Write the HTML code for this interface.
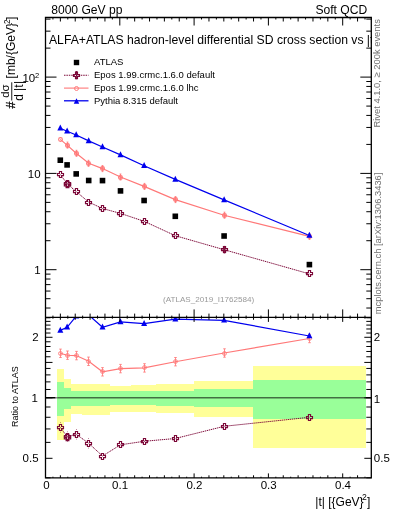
<!DOCTYPE html>
<html><head><meta charset="utf-8"><style>html,body{margin:0;padding:0;background:#fff;width:393px;height:512px;overflow:hidden;position:relative}</style></head>
<body>
<svg width="393" height="512" viewBox="0 0 393 512" style="position:absolute;left:0;top:0;will-change:transform;font-family:'Liberation Sans', sans-serif">
<rect width="393" height="512" fill="#fff"/>
<g shape-rendering="crispEdges">
<rect x="57.4" y="369.1" width="6.50" height="70.90" fill="#ffff99"/>
<rect x="63.9" y="379.1" width="7.00" height="42.50" fill="#ffff99"/>
<rect x="70.9" y="384.2" width="10.80" height="29.40" fill="#ffff99"/>
<rect x="81.7" y="384.2" width="14.20" height="30.40" fill="#ffff99"/>
<rect x="95.9" y="384.2" width="13.90" height="30.50" fill="#ffff99"/>
<rect x="109.8" y="385.7" width="21.40" height="26.60" fill="#ffff99"/>
<rect x="131.2" y="385.1" width="24.40" height="26.90" fill="#ffff99"/>
<rect x="155.6" y="383.5" width="38.30" height="29.70" fill="#ffff99"/>
<rect x="193.9" y="381.3" width="59.50" height="35.70" fill="#ffff99"/>
<rect x="253.4" y="366.2" width="112.60" height="81.40" fill="#ffff99"/>
<rect x="57.4" y="381.9" width="6.50" height="34.30" fill="#99ff99"/>
<rect x="63.9" y="387.8" width="7.00" height="20.90" fill="#99ff99"/>
<rect x="70.9" y="390.5" width="10.80" height="15.00" fill="#99ff99"/>
<rect x="81.7" y="390.7" width="14.20" height="14.80" fill="#99ff99"/>
<rect x="95.9" y="390.9" width="13.90" height="14.60" fill="#99ff99"/>
<rect x="109.8" y="391.3" width="21.40" height="14.00" fill="#99ff99"/>
<rect x="131.2" y="391.3" width="24.40" height="14.00" fill="#99ff99"/>
<rect x="155.6" y="390.7" width="38.30" height="14.80" fill="#99ff99"/>
<rect x="193.9" y="388.7" width="59.50" height="18.40" fill="#99ff99"/>
<rect x="253.4" y="379.8" width="112.60" height="39.20" fill="#99ff99"/>
</g>
<line x1="57.4" y1="397.8" x2="366.0" y2="397.8" stroke="#000" stroke-opacity="0.56" stroke-width="1.5"/>
<path d="M45.5,397.8 H55.5 M366,397.8 H371.3" stroke="#000" stroke-width="1.4"/>
<path d="M55.5,397.8 H57.4" stroke="#000" stroke-opacity="0.5" stroke-width="1.4"/>
<defs><clipPath id="cm"><rect x="45.5" y="17.5" width="325.8" height="299.9"/></clipPath>
<clipPath id="cr"><rect x="45.5" y="318.09999999999997" width="325.8" height="159.8"/></clipPath></defs>
<g clip-path="url(#cm)">
<polyline points="60.3,174.5 67.1,183.7 76.2,191.6 88.7,202.1 102.5,208.5 120.5,213.4 144.1,221.3 175.3,235.7 224.1,249.7 309.4,273.9" fill="none" stroke="#7c0838" stroke-width="1.0" stroke-dasharray="1.3,0.7"/>
<polyline points="60.3,139.4 67.1,145.1 76.2,153.3 88.7,163.3 102.5,168.6 120.5,177.0 144.1,186.4 175.3,199.6 224.1,215.2 309.4,236.4" fill="none" stroke="#ff7878" stroke-width="1.15"/>
<polyline points="60.3,128.2 67.1,131.3 76.2,135.0 88.7,140.9 102.5,147.0 120.5,154.9 144.1,165.8 175.3,179.4 224.1,199.9 309.4,235.5" fill="none" stroke="#0000ee" stroke-width="1.2"/>
<path d="M59.45,171.50 H61.55 V173.45 H63.50 V175.55 H61.55 V177.50 H59.45 V175.55 H57.50 V173.45 H59.45 Z" fill="none" stroke="#7c0838" stroke-width="1.15"/>
<path d="M66.45,180.50 H68.55 V182.45 H70.50 V184.55 H68.55 V186.50 H66.45 V184.55 H64.50 V182.45 H66.45 Z" fill="none" stroke="#7c0838" stroke-width="1.15"/>
<path d="M66.20,181.40 H68.80 V183.20 H70.60 V185.80 H68.80 V187.60 H66.20 V185.80 H64.40 V183.20 H66.20 Z" fill="none" stroke="#7c0838" stroke-width="1.3"/>
<circle cx="67.8" cy="183.8" r="2.0" fill="#7c0838" fill-opacity="0.35"/>
<path d="M75.45,188.50 H77.55 V190.45 H79.50 V192.55 H77.55 V194.50 H75.45 V192.55 H73.50 V190.45 H75.45 Z" fill="none" stroke="#7c0838" stroke-width="1.15"/>
<path d="M87.45,199.50 H89.55 V201.45 H91.50 V203.55 H89.55 V205.50 H87.45 V203.55 H85.50 V201.45 H87.45 Z" fill="none" stroke="#7c0838" stroke-width="1.15"/>
<path d="M101.45,205.50 H103.55 V207.45 H105.50 V209.55 H103.55 V211.50 H101.45 V209.55 H99.50 V207.45 H101.45 Z" fill="none" stroke="#7c0838" stroke-width="1.15"/>
<path d="M119.45,210.50 H121.55 V212.45 H123.50 V214.55 H121.55 V216.50 H119.45 V214.55 H117.50 V212.45 H119.45 Z" fill="none" stroke="#7c0838" stroke-width="1.15"/>
<path d="M143.45,218.50 H145.55 V220.45 H147.50 V222.55 H145.55 V224.50 H143.45 V222.55 H141.50 V220.45 H143.45 Z" fill="none" stroke="#7c0838" stroke-width="1.15"/>
<path d="M174.45,232.50 H176.55 V234.45 H178.50 V236.55 H176.55 V238.50 H174.45 V236.55 H172.50 V234.45 H174.45 Z" fill="none" stroke="#7c0838" stroke-width="1.15"/>
<path d="M223.45,246.50 H225.55 V248.45 H227.50 V250.55 H225.55 V252.50 H223.45 V250.55 H221.50 V248.45 H223.45 Z" fill="none" stroke="#7c0838" stroke-width="1.15"/>
<circle cx="224.5" cy="249.5" r="2.0" fill="#7c0838" fill-opacity="0.5"/>
<path d="M224.50,246.40 V253.00 M223.60,246.40 H225.40 M223.60,253.00 H225.40" stroke="#7c0838" stroke-width="0.9" fill="none"/>
<path d="M308.45,270.50 H310.55 V272.45 H312.50 V274.55 H310.55 V276.50 H308.45 V274.55 H306.50 V272.45 H308.45 Z" fill="none" stroke="#7c0838" stroke-width="1.15"/>
<circle cx="60.50" cy="139.50" r="1.9" fill="none" stroke="#ff7878" stroke-width="1.1"/>
<circle cx="67.50" cy="145.50" r="1.9" fill="none" stroke="#ff7878" stroke-width="1.1"/>
<circle cx="67.5" cy="145.5" r="2.2" fill="#ff7878" fill-opacity="0.5"/>
<path d="M67.50,142.10 V148.10 M66.60,142.10 H68.40 M66.60,148.10 H68.40" stroke="#ff7878" stroke-width="0.9" fill="none"/>
<circle cx="76.50" cy="153.50" r="1.9" fill="none" stroke="#ff7878" stroke-width="1.1"/>
<circle cx="76.5" cy="153.5" r="2.2" fill="#ff7878" fill-opacity="0.5"/>
<path d="M76.50,150.30 V156.30 M75.60,150.30 H77.40 M75.60,156.30 H77.40" stroke="#ff7878" stroke-width="0.9" fill="none"/>
<circle cx="88.50" cy="163.50" r="1.9" fill="none" stroke="#ff7878" stroke-width="1.1"/>
<circle cx="88.5" cy="163.5" r="2.2" fill="#ff7878" fill-opacity="0.5"/>
<path d="M88.50,160.30 V166.30 M87.60,160.30 H89.40 M87.60,166.30 H89.40" stroke="#ff7878" stroke-width="0.9" fill="none"/>
<circle cx="102.50" cy="168.50" r="1.9" fill="none" stroke="#ff7878" stroke-width="1.1"/>
<circle cx="102.5" cy="168.5" r="2.2" fill="#ff7878" fill-opacity="0.5"/>
<path d="M102.50,165.60 V171.60 M101.60,165.60 H103.40 M101.60,171.60 H103.40" stroke="#ff7878" stroke-width="0.9" fill="none"/>
<circle cx="120.50" cy="177.50" r="1.9" fill="none" stroke="#ff7878" stroke-width="1.1"/>
<circle cx="120.5" cy="177.5" r="2.2" fill="#ff7878" fill-opacity="0.5"/>
<path d="M120.50,174.00 V180.00 M119.60,174.00 H121.40 M119.60,180.00 H121.40" stroke="#ff7878" stroke-width="0.9" fill="none"/>
<circle cx="144.50" cy="186.50" r="1.9" fill="none" stroke="#ff7878" stroke-width="1.1"/>
<circle cx="144.5" cy="186.5" r="2.2" fill="#ff7878" fill-opacity="0.5"/>
<path d="M144.50,183.40 V189.40 M143.60,183.40 H145.40 M143.60,189.40 H145.40" stroke="#ff7878" stroke-width="0.9" fill="none"/>
<circle cx="175.50" cy="199.50" r="1.9" fill="none" stroke="#ff7878" stroke-width="1.1"/>
<circle cx="175.5" cy="199.5" r="2.2" fill="#ff7878" fill-opacity="0.5"/>
<path d="M175.50,196.60 V202.60 M174.60,196.60 H176.40 M174.60,202.60 H176.40" stroke="#ff7878" stroke-width="0.9" fill="none"/>
<circle cx="224.50" cy="215.50" r="1.9" fill="none" stroke="#ff7878" stroke-width="1.1"/>
<circle cx="224.5" cy="215.5" r="2.2" fill="#ff7878" fill-opacity="0.5"/>
<path d="M224.50,212.20 V218.20 M223.60,212.20 H225.40 M223.60,218.20 H225.40" stroke="#ff7878" stroke-width="0.9" fill="none"/>
<circle cx="309.50" cy="236.50" r="1.9" fill="none" stroke="#ff7878" stroke-width="1.1"/>
<circle cx="309.5" cy="236.5" r="2.2" fill="#ff7878" fill-opacity="0.5"/>
<path d="M309.50,233.40 V239.40 M308.60,233.40 H310.40 M308.60,239.40 H310.40" stroke="#ff7878" stroke-width="0.9" fill="none"/>
<path d="M60.30,124.48 L63.30,130.48 L57.30,130.48Z" fill="#0000ee"/>
<path d="M67.10,127.58 L70.10,133.58 L64.10,133.58Z" fill="#0000ee"/>
<path d="M76.20,131.28 L79.20,137.28 L73.20,137.28Z" fill="#0000ee"/>
<path d="M88.70,137.18 L91.70,143.18 L85.70,143.18Z" fill="#0000ee"/>
<path d="M102.50,143.28 L105.50,149.28 L99.50,149.28Z" fill="#0000ee"/>
<path d="M120.50,151.18 L123.50,157.18 L117.50,157.18Z" fill="#0000ee"/>
<path d="M144.10,162.08 L147.10,168.08 L141.10,168.08Z" fill="#0000ee"/>
<path d="M175.30,175.68 L178.30,181.68 L172.30,181.68Z" fill="#0000ee"/>
<path d="M224.10,196.18 L227.10,202.18 L221.10,202.18Z" fill="#0000ee"/>
<path d="M309.40,231.78 L312.40,237.78 L306.40,237.78Z" fill="#0000ee"/>
<rect x="57.50" y="157.40" width="5.6" height="5.6" fill="#000"/>
<rect x="64.30" y="162.10" width="5.6" height="5.6" fill="#000"/>
<rect x="73.40" y="171.10" width="5.6" height="5.6" fill="#000"/>
<rect x="85.90" y="177.70" width="5.6" height="5.6" fill="#000"/>
<rect x="99.70" y="177.80" width="5.6" height="5.6" fill="#000"/>
<rect x="117.70" y="188.10" width="5.6" height="5.6" fill="#000"/>
<rect x="141.30" y="197.70" width="5.6" height="5.6" fill="#000"/>
<rect x="172.50" y="213.50" width="5.6" height="5.6" fill="#000"/>
<rect x="221.30" y="233.20" width="5.6" height="5.6" fill="#000"/>
<rect x="306.60" y="261.80" width="5.6" height="5.6" fill="#000"/>
</g>
<g clip-path="url(#cr)">
<polyline points="60.3,427.4 67.1,436.6 76.2,434.3 88.7,443.3 102.5,456.0 120.5,444.8 144.1,441.3 175.3,438.5 224.1,426.3 309.4,417.3" fill="none" stroke="#7c0838" stroke-width="1.0" stroke-dasharray="1.3,0.7"/>
<polyline points="60.3,353.3 67.1,355.2 76.2,355.6 88.7,361.3 102.5,371.8 120.5,368.6 144.1,367.9 175.3,361.7 224.1,353.0 309.4,338.5" fill="none" stroke="#ff7878" stroke-width="1.15"/>
<polyline points="60.3,330.4 67.1,327.3 76.2,316.2 88.7,315.0 102.5,327.3 120.5,321.9 144.1,323.6 175.3,319.2 224.1,320.3 309.4,336.0" fill="none" stroke="#0000ee" stroke-width="1.2"/>
<path d="M60.5,422.10 v1 M60.5,431.70 v1" stroke="#7c0838" stroke-width="0.8" stroke-opacity="0.6"/>
<path d="M59.45,424.50 H61.55 V426.45 H63.50 V428.55 H61.55 V430.50 H59.45 V428.55 H57.50 V426.45 H59.45 Z" fill="none" stroke="#7c0838" stroke-width="1.15"/>
<path d="M67.5,431.30 v1 M67.5,440.90 v1" stroke="#7c0838" stroke-width="0.8" stroke-opacity="0.6"/>
<path d="M66.45,433.50 H68.55 V435.45 H70.50 V437.55 H68.55 V439.50 H66.45 V437.55 H64.50 V435.45 H66.45 Z" fill="none" stroke="#7c0838" stroke-width="1.15"/>
<path d="M66.20,434.40 H68.80 V436.20 H70.60 V438.80 H68.80 V440.60 H66.20 V438.80 H64.40 V436.20 H66.20 Z" fill="none" stroke="#7c0838" stroke-width="1.3"/>
<circle cx="67.8" cy="436.8" r="2.0" fill="#7c0838" fill-opacity="0.35"/>
<path d="M76.5,429.00 v1 M76.5,438.60 v1" stroke="#7c0838" stroke-width="0.8" stroke-opacity="0.6"/>
<path d="M75.45,431.50 H77.55 V433.45 H79.50 V435.55 H77.55 V437.50 H75.45 V435.55 H73.50 V433.45 H75.45 Z" fill="none" stroke="#7c0838" stroke-width="1.15"/>
<path d="M88.5,438.00 v1 M88.5,447.60 v1" stroke="#7c0838" stroke-width="0.8" stroke-opacity="0.6"/>
<path d="M87.45,440.50 H89.55 V442.45 H91.50 V444.55 H89.55 V446.50 H87.45 V444.55 H85.50 V442.45 H87.45 Z" fill="none" stroke="#7c0838" stroke-width="1.15"/>
<path d="M101.45,453.50 H103.55 V455.45 H105.50 V457.55 H103.55 V459.50 H101.45 V457.55 H99.50 V455.45 H101.45 Z" fill="none" stroke="#7c0838" stroke-width="1.15"/>
<path d="M119.45,441.50 H121.55 V443.45 H123.50 V445.55 H121.55 V447.50 H119.45 V445.55 H117.50 V443.45 H119.45 Z" fill="none" stroke="#7c0838" stroke-width="1.15"/>
<path d="M143.45,438.50 H145.55 V440.45 H147.50 V442.55 H145.55 V444.50 H143.45 V442.55 H141.50 V440.45 H143.45 Z" fill="none" stroke="#7c0838" stroke-width="1.15"/>
<path d="M174.45,435.50 H176.55 V437.45 H178.50 V439.55 H176.55 V441.50 H174.45 V439.55 H172.50 V437.45 H174.45 Z" fill="none" stroke="#7c0838" stroke-width="1.15"/>
<path d="M223.45,423.50 H225.55 V425.45 H227.50 V427.55 H225.55 V429.50 H223.45 V427.55 H221.50 V425.45 H223.45 Z" fill="none" stroke="#7c0838" stroke-width="1.15"/>
<path d="M308.45,414.50 H310.55 V416.45 H312.50 V418.55 H310.55 V420.50 H308.45 V418.55 H306.50 V416.45 H308.45 Z" fill="none" stroke="#7c0838" stroke-width="1.15"/>
<path d="M60.50,349.10 V357.50 M59.20,349.10 H61.80 M59.20,357.50 H61.80" stroke="#ff7878" stroke-width="0.85" fill="none"/>
<circle cx="60.50" cy="353.50" r="1.9" fill="none" stroke="#ff7878" stroke-width="0.95"/>
<path d="M67.50,351.00 V359.40 M66.20,351.00 H68.80 M66.20,359.40 H68.80" stroke="#ff7878" stroke-width="0.85" fill="none"/>
<circle cx="67.50" cy="355.50" r="1.9" fill="none" stroke="#ff7878" stroke-width="0.95"/>
<path d="M76.50,351.40 V359.80 M75.20,351.40 H77.80 M75.20,359.80 H77.80" stroke="#ff7878" stroke-width="0.85" fill="none"/>
<circle cx="76.50" cy="355.50" r="1.9" fill="none" stroke="#ff7878" stroke-width="0.95"/>
<path d="M88.50,357.10 V365.50 M87.20,357.10 H89.80 M87.20,365.50 H89.80" stroke="#ff7878" stroke-width="0.85" fill="none"/>
<circle cx="88.50" cy="361.50" r="1.9" fill="none" stroke="#ff7878" stroke-width="0.95"/>
<path d="M102.50,367.60 V376.00 M101.20,367.60 H103.80 M101.20,376.00 H103.80" stroke="#ff7878" stroke-width="0.85" fill="none"/>
<circle cx="102.50" cy="371.50" r="1.9" fill="none" stroke="#ff7878" stroke-width="0.95"/>
<path d="M120.50,364.40 V372.80 M119.20,364.40 H121.80 M119.20,372.80 H121.80" stroke="#ff7878" stroke-width="0.85" fill="none"/>
<circle cx="120.50" cy="368.50" r="1.9" fill="none" stroke="#ff7878" stroke-width="0.95"/>
<path d="M144.50,363.70 V372.10 M143.20,363.70 H145.80 M143.20,372.10 H145.80" stroke="#ff7878" stroke-width="0.85" fill="none"/>
<circle cx="144.50" cy="367.50" r="1.9" fill="none" stroke="#ff7878" stroke-width="0.95"/>
<path d="M175.50,357.50 V365.90 M174.20,357.50 H176.80 M174.20,365.90 H176.80" stroke="#ff7878" stroke-width="0.85" fill="none"/>
<circle cx="175.50" cy="361.50" r="1.9" fill="none" stroke="#ff7878" stroke-width="0.95"/>
<path d="M224.50,348.80 V357.20 M223.20,348.80 H225.80 M223.20,357.20 H225.80" stroke="#ff7878" stroke-width="0.85" fill="none"/>
<circle cx="224.50" cy="353.50" r="1.9" fill="none" stroke="#ff7878" stroke-width="0.95"/>
<path d="M309.50,334.30 V342.70 M308.20,334.30 H310.80 M308.20,342.70 H310.80" stroke="#ff7878" stroke-width="0.85" fill="none"/>
<circle cx="309.50" cy="338.50" r="1.9" fill="none" stroke="#ff7878" stroke-width="0.95"/>
<path d="M60.30,326.68 L63.30,332.68 L57.30,332.68Z" fill="#0000ee"/>
<path d="M67.10,323.58 L70.10,329.58 L64.10,329.58Z" fill="#0000ee"/>
<path d="M76.20,312.48 L79.20,318.48 L73.20,318.48Z" fill="#0000ee"/>
<path d="M88.70,311.28 L91.70,317.28 L85.70,317.28Z" fill="#0000ee"/>
<path d="M102.50,323.58 L105.50,329.58 L99.50,329.58Z" fill="#0000ee"/>
<path d="M120.50,318.18 L123.50,324.18 L117.50,324.18Z" fill="#0000ee"/>
<path d="M144.10,319.88 L147.10,325.88 L141.10,325.88Z" fill="#0000ee"/>
<path d="M175.30,315.48 L178.30,321.48 L172.30,321.48Z" fill="#0000ee"/>
<path d="M224.10,316.58 L227.10,322.58 L221.10,322.58Z" fill="#0000ee"/>
<path d="M309.40,332.28 L312.40,338.28 L306.40,338.28Z" fill="#0000ee"/>
</g>
<g stroke="#000" fill="none">
<path d="M45.5,17.5 H371.3 V477.9 H45.5 Z" stroke-width="1.3"/>
<path d="M45.5,317.4 H371.3" stroke-width="1.3"/>
<path d="M45.50,17.5 v8 M45.50,317.4 v-8 M45.50,317.4 v4.5 M45.50,477.9 v-4.5 M52.93,17.5 v2 M52.93,317.4 v-1.8 M52.93,317.4 v1.3 M52.93,477.9 v-1.2 M60.36,17.5 v4 M60.36,317.4 v-3.8 M60.36,317.4 v2.4 M60.36,477.9 v-2.6 M67.79,17.5 v2 M67.79,317.4 v-1.8 M67.79,317.4 v1.3 M67.79,477.9 v-1.2 M75.22,17.5 v4 M75.22,317.4 v-3.8 M75.22,317.4 v2.4 M75.22,477.9 v-2.6 M82.65,17.5 v2 M82.65,317.4 v-1.8 M82.65,317.4 v1.3 M82.65,477.9 v-1.2 M90.08,17.5 v4 M90.08,317.4 v-3.8 M90.08,317.4 v2.4 M90.08,477.9 v-2.6 M97.51,17.5 v2 M97.51,317.4 v-1.8 M97.51,317.4 v1.3 M97.51,477.9 v-1.2 M104.94,17.5 v4 M104.94,317.4 v-3.8 M104.94,317.4 v2.4 M104.94,477.9 v-2.6 M112.37,17.5 v2 M112.37,317.4 v-1.8 M112.37,317.4 v1.3 M112.37,477.9 v-1.2 M119.80,17.5 v8 M119.80,317.4 v-8 M119.80,317.4 v4.5 M119.80,477.9 v-4.5 M127.23,17.5 v2 M127.23,317.4 v-1.8 M127.23,317.4 v1.3 M127.23,477.9 v-1.2 M134.66,17.5 v4 M134.66,317.4 v-3.8 M134.66,317.4 v2.4 M134.66,477.9 v-2.6 M142.09,17.5 v2 M142.09,317.4 v-1.8 M142.09,317.4 v1.3 M142.09,477.9 v-1.2 M149.52,17.5 v4 M149.52,317.4 v-3.8 M149.52,317.4 v2.4 M149.52,477.9 v-2.6 M156.95,17.5 v2 M156.95,317.4 v-1.8 M156.95,317.4 v1.3 M156.95,477.9 v-1.2 M164.38,17.5 v4 M164.38,317.4 v-3.8 M164.38,317.4 v2.4 M164.38,477.9 v-2.6 M171.81,17.5 v2 M171.81,317.4 v-1.8 M171.81,317.4 v1.3 M171.81,477.9 v-1.2 M179.24,17.5 v4 M179.24,317.4 v-3.8 M179.24,317.4 v2.4 M179.24,477.9 v-2.6 M186.67,17.5 v2 M186.67,317.4 v-1.8 M186.67,317.4 v1.3 M186.67,477.9 v-1.2 M194.10,17.5 v8 M194.10,317.4 v-8 M194.10,317.4 v4.5 M194.10,477.9 v-4.5 M201.53,17.5 v2 M201.53,317.4 v-1.8 M201.53,317.4 v1.3 M201.53,477.9 v-1.2 M208.96,17.5 v4 M208.96,317.4 v-3.8 M208.96,317.4 v2.4 M208.96,477.9 v-2.6 M216.39,17.5 v2 M216.39,317.4 v-1.8 M216.39,317.4 v1.3 M216.39,477.9 v-1.2 M223.82,17.5 v4 M223.82,317.4 v-3.8 M223.82,317.4 v2.4 M223.82,477.9 v-2.6 M231.25,17.5 v2 M231.25,317.4 v-1.8 M231.25,317.4 v1.3 M231.25,477.9 v-1.2 M238.68,17.5 v4 M238.68,317.4 v-3.8 M238.68,317.4 v2.4 M238.68,477.9 v-2.6 M246.11,17.5 v2 M246.11,317.4 v-1.8 M246.11,317.4 v1.3 M246.11,477.9 v-1.2 M253.54,17.5 v4 M253.54,317.4 v-3.8 M253.54,317.4 v2.4 M253.54,477.9 v-2.6 M260.97,17.5 v2 M260.97,317.4 v-1.8 M260.97,317.4 v1.3 M260.97,477.9 v-1.2 M268.40,17.5 v8 M268.40,317.4 v-8 M268.40,317.4 v4.5 M268.40,477.9 v-4.5 M275.83,17.5 v2 M275.83,317.4 v-1.8 M275.83,317.4 v1.3 M275.83,477.9 v-1.2 M283.26,17.5 v4 M283.26,317.4 v-3.8 M283.26,317.4 v2.4 M283.26,477.9 v-2.6 M290.69,17.5 v2 M290.69,317.4 v-1.8 M290.69,317.4 v1.3 M290.69,477.9 v-1.2 M298.12,17.5 v4 M298.12,317.4 v-3.8 M298.12,317.4 v2.4 M298.12,477.9 v-2.6 M305.55,17.5 v2 M305.55,317.4 v-1.8 M305.55,317.4 v1.3 M305.55,477.9 v-1.2 M312.98,17.5 v4 M312.98,317.4 v-3.8 M312.98,317.4 v2.4 M312.98,477.9 v-2.6 M320.41,17.5 v2 M320.41,317.4 v-1.8 M320.41,317.4 v1.3 M320.41,477.9 v-1.2 M327.84,17.5 v4 M327.84,317.4 v-3.8 M327.84,317.4 v2.4 M327.84,477.9 v-2.6 M335.27,17.5 v2 M335.27,317.4 v-1.8 M335.27,317.4 v1.3 M335.27,477.9 v-1.2 M342.70,17.5 v8 M342.70,317.4 v-8 M342.70,317.4 v4.5 M342.70,477.9 v-4.5 M350.13,17.5 v2 M350.13,317.4 v-1.8 M350.13,317.4 v1.3 M350.13,477.9 v-1.2 M357.56,17.5 v4 M357.56,317.4 v-3.8 M357.56,317.4 v2.4 M357.56,477.9 v-2.6 M364.99,17.5 v2 M364.99,317.4 v-1.8 M364.99,317.4 v1.3 M364.99,477.9 v-1.2" stroke-width="1"/>
<path d="M45.5,308.02 h5 M371.3,308.02 h-5 M45.5,298.69 h5 M371.3,298.69 h-5 M45.5,291.06 h5 M371.3,291.06 h-5 M45.5,284.62 h5 M371.3,284.62 h-5 M45.5,279.03 h5 M371.3,279.03 h-5 M45.5,274.11 h5 M371.3,274.11 h-5 M45.5,269.70 h11 M371.3,269.70 h-11 M45.5,240.71 h5 M371.3,240.71 h-5 M45.5,223.75 h5 M371.3,223.75 h-5 M45.5,211.72 h5 M371.3,211.72 h-5 M45.5,202.39 h5 M371.3,202.39 h-5 M45.5,194.76 h5 M371.3,194.76 h-5 M45.5,188.32 h5 M371.3,188.32 h-5 M45.5,182.73 h5 M371.3,182.73 h-5 M45.5,177.81 h5 M371.3,177.81 h-5 M45.5,173.40 h11 M371.3,173.40 h-11 M45.5,144.41 h5 M371.3,144.41 h-5 M45.5,127.45 h5 M371.3,127.45 h-5 M45.5,115.42 h5 M371.3,115.42 h-5 M45.5,106.09 h5 M371.3,106.09 h-5 M45.5,98.46 h5 M371.3,98.46 h-5 M45.5,92.02 h5 M371.3,92.02 h-5 M45.5,86.43 h5 M371.3,86.43 h-5 M45.5,81.51 h5 M371.3,81.51 h-5 M45.5,77.10 h11 M371.3,77.10 h-11 M45.5,48.11 h5 M371.3,48.11 h-5 M45.5,31.15 h5 M371.3,31.15 h-5 M45.5,19.12 h5 M371.3,19.12 h-5" stroke-width="1"/>
<path d="M45.5,477.79 h5 M371.3,477.79 h-5 M45.5,458.31 h7 M371.3,458.31 h-7 M45.5,442.39 h5 M371.3,442.39 h-5 M45.5,428.94 h5 M371.3,428.94 h-5 M45.5,417.28 h5 M371.3,417.28 h-5 M45.5,407.00 h5 M371.3,407.00 h-5 M45.5,397.80 h7 M371.3,397.80 h-7 M45.5,389.48 h5 M371.3,389.48 h-5 M45.5,381.88 h5 M371.3,381.88 h-5 M45.5,374.90 h5 M371.3,374.90 h-5 M45.5,368.43 h5 M371.3,368.43 h-5 M45.5,362.41 h7 M371.3,362.41 h-7 M45.5,356.77 h5 M371.3,356.77 h-5 M45.5,351.48 h5 M371.3,351.48 h-5 M45.5,346.49 h5 M371.3,346.49 h-5 M45.5,341.77 h5 M371.3,341.77 h-5 M45.5,337.29 h7 M371.3,337.29 h-7 M45.5,333.03 h5 M371.3,333.03 h-5 M45.5,328.97 h5 M371.3,328.97 h-5 M45.5,325.09 h5 M371.3,325.09 h-5 M45.5,321.38 h5 M371.3,321.38 h-5 M45.5,317.81 h5 M371.3,317.81 h-5" stroke-width="1"/>
</g>
<text x="46.5" y="488.9" font-size="11.5" text-anchor="middle" fill="#000" >0</text>
<text x="120.1" y="488.9" font-size="11.5" text-anchor="middle" fill="#000" >0.1</text>
<text x="194.4" y="488.9" font-size="11.5" text-anchor="middle" fill="#000" >0.2</text>
<text x="268.7" y="488.9" font-size="11.5" text-anchor="middle" fill="#000" >0.3</text>
<text x="343.0" y="488.9" font-size="11.5" text-anchor="middle" fill="#000" >0.4</text>
<text x="40.6" y="274.1" font-size="11.5" text-anchor="end" fill="#000" >1</text>
<text x="40.6" y="178.1" font-size="11.5" text-anchor="end" fill="#000" >10</text>
<text x="35.2" y="81.8" font-size="11.5" text-anchor="end">10</text><text x="35.0" y="78.0" font-size="7.5">2</text>
<text x="38.6" y="341.2" font-size="11.5" text-anchor="end" fill="#000" >2</text>
<text x="38.0" y="402.0" font-size="11.5" text-anchor="end" fill="#000" >1</text>
<text x="38.6" y="462.3" font-size="11.5" text-anchor="end" fill="#000" >0.5</text>
<text x="373.8" y="341.0" font-size="11.5" text-anchor="start" fill="#000" >2</text>
<text x="373.8" y="403.0" font-size="11.5" text-anchor="start" fill="#000" >1</text>
<text x="373.8" y="462.0" font-size="11.5" text-anchor="start" fill="#000" >0.5</text>
<text x="51.2" y="13.9" font-size="12.1" text-anchor="start" fill="#000" >8000 GeV pp</text>
<text x="367.2" y="14.0" font-size="12.1" text-anchor="end" fill="#000" >Soft QCD</text>
<svg x="45.5" y="17.5" width="326.40000000000003" height="40" overflow="hidden"><text x="3.5000000000000013" y="26.4" font-size="12.18">ALFA+ATLAS hadron-level differential SD cross section vs |t|</text></svg>
<rect x="73.80" y="59.80" width="5.4" height="5.4" fill="#000"/>
<text x="94" y="65.2" font-size="9.5" text-anchor="start" fill="#000" >ATLAS</text>
<line x1="64" y1="75.2" x2="88.5" y2="75.2" stroke="#7c0838" stroke-width="1.1" stroke-dasharray="1.5,0.9"/>
<path d="M76.50,71.50 V78.90 M75.30,71.50 H77.70 M75.30,78.90 H77.70" stroke="#7c0838" stroke-width="0.9" fill="none"/>
<path d="M75.50,72.50 H77.50 V74.50 H79.50 V76.50 H77.50 V78.50 H75.50 V76.50 H73.50 V74.50 H75.50 Z" fill="none" stroke="#7c0838" stroke-width="1.15"/>
<text x="94" y="78.2" font-size="9.5" text-anchor="start" fill="#000" >Epos 1.99.crmc.1.6.0 default</text>
<line x1="64" y1="88.1" x2="88.5" y2="88.1" stroke="#ff7878" stroke-width="1.1"/>
<circle cx="76.50" cy="88.50" r="2.0" fill="none" stroke="#ff7878" stroke-width="0.95"/>
<text x="94" y="91.2" font-size="9.5" text-anchor="start" fill="#000" >Epos 1.99.crmc.1.6.0 lhc</text>
<line x1="64" y1="100.8" x2="88.5" y2="100.8" stroke="#0000ee" stroke-width="1.3"/>
<path d="M76.50,98.19 L79.25,103.69 L73.75,103.69Z" fill="#0000ee"/>
<text x="94" y="104.3" font-size="9.5" text-anchor="start" fill="#000" >Pythia 8.315 default</text>
<text x="163.0" y="301.6" font-size="8.1" text-anchor="start" fill="#999" >(ATLAS_2019_I1762584)</text>
<g transform="translate(17.5,427.1) rotate(-90)"><text x="0" y="0" font-size="9" text-anchor="start" fill="#000" >Ratio to ATLAS</text></g>
<g transform="translate(380.6,314.3) rotate(-90)"><text x="0" y="0" font-size="9.4" text-anchor="start" fill="#707070" >mcplots.cern.ch [arXiv:1306.3436]</text></g>
<g transform="translate(379.9,127.5) rotate(-90)"><text x="0" y="0" font-size="9.4" text-anchor="start" fill="#707070" >Rivet 4.1.0, ≥ 200k events</text></g>
<text x="315.3" y="506.4" font-size="12">|t| [{GeV}</text><text x="362.0" y="499.8" font-size="8.6">2</text><text x="366.9" y="506.4" font-size="12">]</text>
<g transform="translate(15.2,108.4) rotate(-90)"><text x="0" y="0" font-size="12.4" stroke="#000" stroke-width="0.25">#</text></g>
<g transform="translate(9.2,97.8) rotate(-90)"><text x="0" y="0" font-size="11.4">dσ</text></g>
<line x1="11.75" y1="82.3" x2="11.75" y2="100.5" stroke="#000" stroke-width="0.9"/>
<g transform="translate(23.2,100.7) rotate(-90)"><text x="0" y="0" font-size="12">d<tspan dx="2.9">|</tspan><tspan dx="0.2">t</tspan><tspan dx="0.5">|</tspan></text></g>
<g transform="translate(15,78.4) rotate(-90)"><text x="0" y="0" font-size="12">[mb/{GeV}</text><text x="54.5" y="-5.4" font-size="8.2">2</text><text x="58.3" y="0" font-size="12">]</text></g>
</svg>
</body></html>
